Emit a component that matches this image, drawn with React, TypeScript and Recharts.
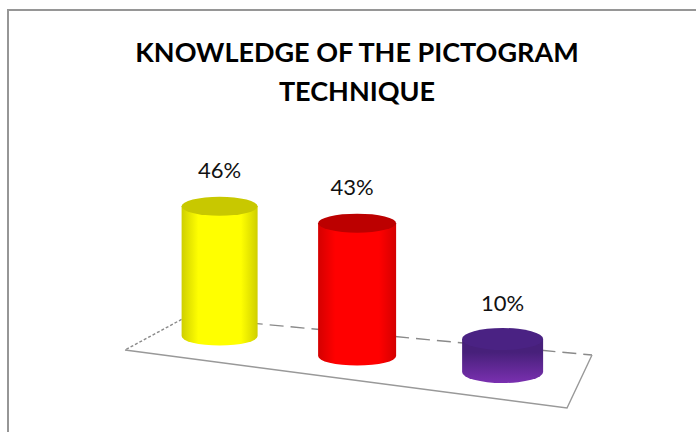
import React from "react";
import { BarChart, Bar, XAxis, YAxis, Customized, LabelList } from "recharts";

const categories = ["Yes", "Partly", "No"];
const shares = [46, 43, 10];
const barColors = [
  { edge: "#cfcf00", mid: "#ffff00", top: "#c8c800" },
  { edge: "#d40000", mid: "#ff0000", top: "#bc0000" },
  { edge: "#47207a", mid: "#7a30b0", top: "#4a2283" },
];
const titleLines = ["KNOWLEDGE OF THE PICTOGRAM", "TECHNIQUE"];

const data = categories.map((name, i) => ({ name, share: shares[i] }));

// 3D look: the floor is tilted, so each cylinder sits lower and a little larger.
const floorDrop = [0, 20, 36];
const depth = [0.94, 1.03, 1.1];
const centers = [0, -4, 0];
const labelShift = [0, -5, 0];
const radiusY = [9.5, 9.5, 11];

function geom(x: number, y: number, width: number, height: number, i: number) {
  const h = height * depth[i];
  const w = [76, 78, 81][i];
  const cx = x + width / 2 + centers[i];
  const bottom = y + height + floorDrop[i];
  return { cx, w, h, bottom, top: bottom - h };
}

function Cylinder(props: any) {
  const { x, y, width, height, index } = props;
  const { cx, w, bottom, top } = geom(x, y, width, height, index);
  const c = barColors[index];
  const rx = w / 2;
  const ry = radiusY[index];
  const id = `cyl${index}`;
  const vertical = index === 2;
  return (
    <g>
      <defs>
        <linearGradient id={id} x1="0" x2={vertical ? "0" : "1"} y1="0" y2={vertical ? "1" : "0"}>
          {vertical ? (
            <>
              <stop offset="0.3" stopColor={c.edge} />
              <stop offset="1" stopColor={c.mid} />
            </>
          ) : (
            <>
              <stop offset="0" stopColor={c.edge} />
              <stop offset="0.22" stopColor={c.mid} />
              <stop offset="0.78" stopColor={c.mid} />
              <stop offset="1" stopColor={c.edge} />
            </>
          )}
        </linearGradient>
      </defs>
      <path
        d={`M${cx - rx},${top} L${cx - rx},${bottom} A${rx},${ry} 0 0 0 ${cx + rx},${bottom} L${cx + rx},${top} Z`}
        fill={`url(#${id})`}
      />
      <ellipse cx={cx} cy={top} rx={rx} ry={ry} fill={c.top} />
    </g>
  );
}

function BarValue(props: any) {
  const { x, y, width, height, index, value } = props;
  const { cx, top } = geom(x, y, width, height, index);
  return (
    <text x={cx + labelShift[index]} y={top - 28} textAnchor="middle" fontFamily="Lato" fontSize={22} fill="#111">
      {`${value}%`}
    </text>
  );
}

function Backdrop() {
  return (
    <g>
      <rect x={8} y={10} width={700} height={440} fill="#fff" stroke="#969696" strokeWidth={2} />
      {titleLines.map((line, i) => (
        <text key={line} x={357} y={62 + i * 39} textAnchor="middle" fontFamily="Lato" fontWeight={700} fontSize={27} fill="#000">
          {line}
        </text>
      ))}
      <path d="M186,317 L592,355" fill="none" stroke="#8a8a8a" strokeWidth={1.4} strokeDasharray="14 7" />
      <path d="M186,317 L125,350" fill="none" stroke="#8a8a8a" strokeWidth={1.4} strokeDasharray="3 2" />
      <path d="M125,350 L567,408 L592,355" fill="none" stroke="#999" strokeWidth={1.4} />
    </g>
  );
}

export default function App() {
  return (
    <div style={{ position: "absolute", left: 0, top: 0 }}>
      <BarChart width={696} height={432} data={data} margin={{ top: 0, right: 122.5, bottom: 96, left: 149 }} barCategoryGap="34%">
        <XAxis dataKey="name" hide />
        <YAxis hide domain={[0, 112]} />
        <Customized component={Backdrop} />
        <Bar dataKey="share" isAnimationActive={false} shape={<Cylinder />}>
          <LabelList dataKey="share" content={<BarValue />} />
        </Bar>
      </BarChart>
    </div>
  );
}
